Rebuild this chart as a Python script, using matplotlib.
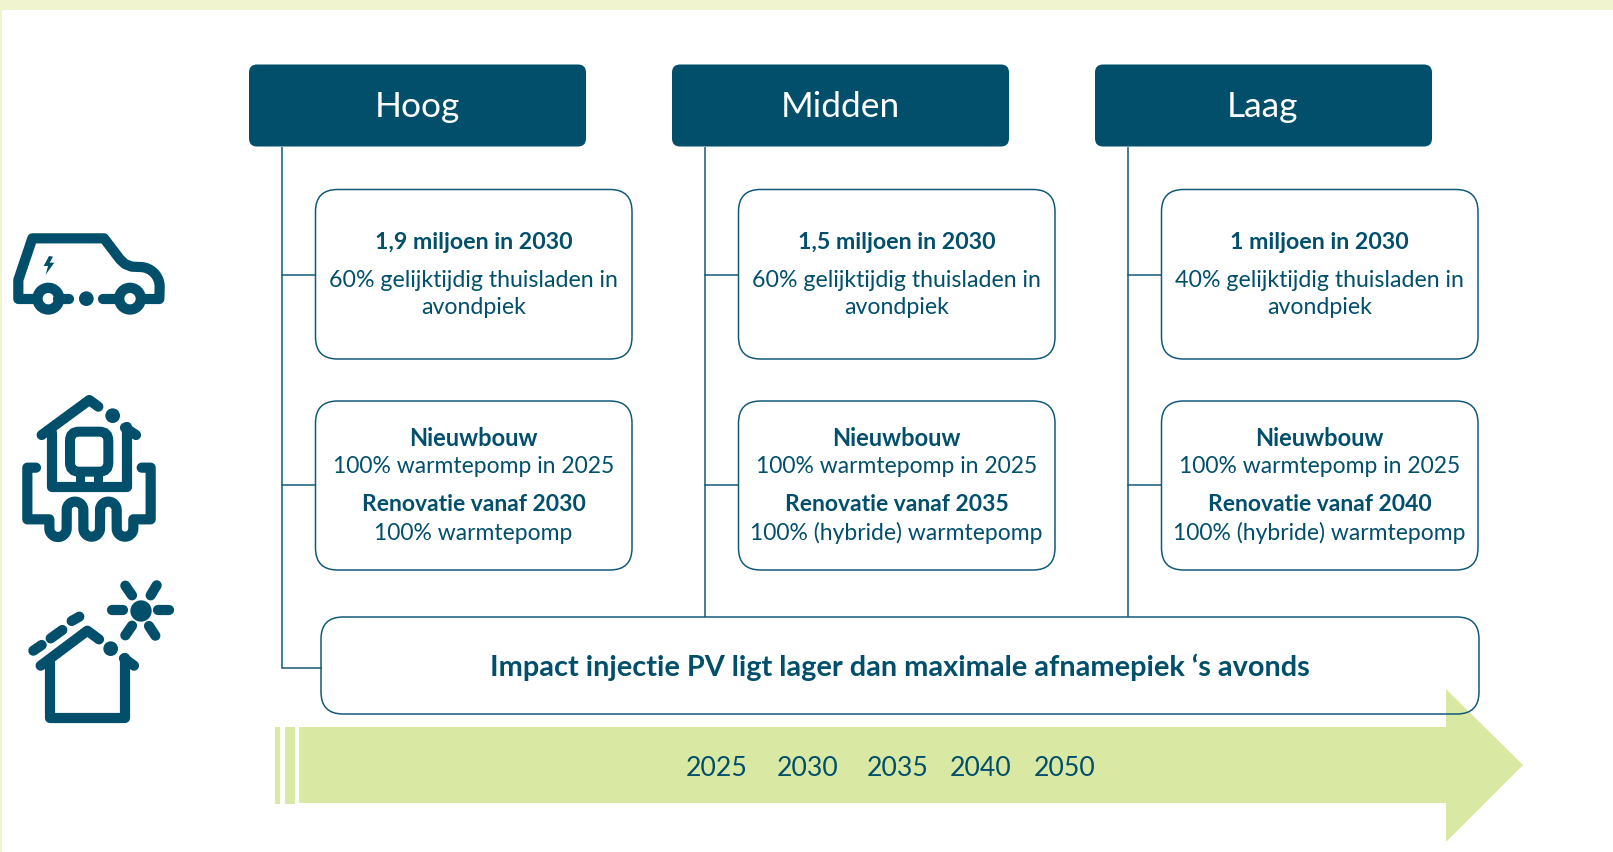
import numpy as np
import matplotlib
matplotlib.use("Agg")
import matplotlib.pyplot as plt
from matplotlib.patches import FancyBboxPatch, Rectangle, Polygon, Circle
W, H = 1613, 853
DARK = "#014F6B"
LINE = "#0F5878"
GREEN = "#D9E8A3"
BAND = "#F0F5D0"

scenarios = ["Hoog", "Midden", "Laag"]
ev_titles = ["1,9 miljoen in 2030", "1,5 miljoen in 2030", "1 miljoen in 2030"]
ev_share = ["60% gelijktijdig thuisladen in", "60% gelijktijdig thuisladen in", "40% gelijktijdig thuisladen in"]
ev_share2 = ["avondpiek", "avondpiek", "avondpiek"]
new_title = ["Nieuwbouw", "Nieuwbouw", "Nieuwbouw"]
new_text = ["100% warmtepomp in 2025"] * 3
reno_title = ["Renovatie vanaf 2030", "Renovatie vanaf 2035", "Renovatie vanaf 2040"]
reno_text = ["100% warmtepomp", "100% (hybride) warmtepomp", "100% (hybride) warmtepomp"]
pv_text = "Impact injectie PV ligt lager dan maximale afnamepiek \u2018s avonds"
years = ["2025", "2030", "2035", "2040", "2050"]
year_x = [717, 807.5, 898, 981, 1065]

FONT = "Lato"
FS = 16.7
FS2 = 16.45
px = 72 / 100

fig = plt.figure(figsize=(W / 100, H / 100), dpi=100)
ax = fig.add_axes([0, 0, 1, 1])
ax.set_xlim(0, W)
ax.set_ylim(H - 1, -1)
ax.axis("off")


def rbox(x0, y0, x1, y1, r, fc, ec, lw=1.5, z=3):
    ax.add_patch(FancyBboxPatch((x0, y0), x1 - x0, y1 - y0,
                                boxstyle=f"round,pad=0,rounding_size={r}",
                                fc=fc, ec=ec, lw=lw * px, zorder=z))


def txt(x, y, s, bold=False, size=FS, color=DARK, z=5):
    ax.text(x, y, s, ha="center", va="baseline", family=FONT, fontsize=size,
            fontweight="bold" if bold else "normal", color=color, zorder=z)


# page background bands
ax.add_patch(Rectangle((0, -1), W, 11, fc=BAND, ec="none"))
ax.add_patch(Rectangle((0, -1), 2, H + 1, fc=BAND, ec="none"))

# arrow
for a, b in [(275, 280), (285, 295)]:
    ax.add_patch(Rectangle((a, 727), b - a, 77, fc=GREEN, ec="none", zorder=1))
ax.add_patch(Polygon([(299, 727), (1446, 727), (1446, 689), (1523, 765),
                      (1446, 842), (1446, 803), (299, 803)],
                     closed=True, fc=GREEN, ec="none", zorder=1))
for xv, s in zip(year_x, years):
    txt(xv, 775, s, size=19.2)

# connectors
for i in range(3):
    dx = i * 423
    lx = 281.5 + dx
    bottom = 668 if i == 0 else 617
    ax.plot([lx, lx], [147, bottom], color=LINE, lw=1.5 * px, zorder=2, solid_capstyle="butt")
    ax.plot([lx, 316 + dx], [274.5, 274.5], color=LINE, lw=1.5 * px, zorder=2)
    ax.plot([lx, 316 + dx], [485, 485], color=LINE, lw=1.5 * px, zorder=2)
ax.plot([281.5, 321], [668, 668], color=LINE, lw=1.5 * px, zorder=2)

# columns
for i in range(3):
    dx = i * 423
    rbox(249 + dx, 64.5, 586 + dx, 146.5, 8, DARK, "none")
    txt(417 + dx, 115.5, scenarios[i], size=25.4, color="white")
    rbox(315.5 + dx, 189.5, 632 + dx, 359, 22, "white", LINE)
    rbox(315.5 + dx, 401, 632 + dx, 570, 22, "white", LINE)
    cx = 473.5 + dx
    txt(cx, 248, ev_titles[i], bold=True)
    txt(cx, 286, ev_share[i])
    txt(cx, 313, ev_share2[i])
    txt(cx, 445, new_title[i], bold=True, size=17)
    txt(cx, 472, new_text[i], size=FS2)
    txt(cx, 510, reno_title[i], bold=True, size=FS2)
    txt(cx, 539, reno_text[i], size=FS2)

# PV box (see-through, the arrow head shows behind it)
rbox(321, 617, 1479, 714, 22, "none", LINE, z=3)
txt(900, 675, pv_text, bold=True, size=20.8)


def arc(cx, cy, r, a0, a1, n=24):
    t = np.radians(np.linspace(a0, a1, n))
    return [(cx + r * np.cos(v), cy + r * np.sin(v)) for v in t]


def stroke(pts, ox, oy, lw=10.2):
    p = np.array(pts, float) / 3 + [ox, oy]
    ax.plot(p[:, 0], p[:, 1], color=DARK, lw=lw * px, solid_capstyle="round",
            solid_joinstyle="round", zorder=4)


def disc(x, y, r, ox, oy):
    ax.add_patch(Circle((x / 3 + ox, y / 3 + oy), r / 3, fc=DARK, ec="none", zorder=4))


# car icon
ox, oy = 0, 200
car = [(100, 297), (55, 297), (55, 240), (97, 115), (312, 115), (360, 178)]
car += [(375, 192), (395, 200), (420, 201)] + arc(420, 260, 59, -90, 0, 14) + [(478, 297), (435, 297)]
stroke(car, ox, oy)
stroke([(175, 296), (208, 296)], ox, oy)
stroke([(310, 296), (345, 296)], ox, oy)
disc(259, 296, 22, ox, oy)
for wx in (145, 390):
    ax.add_patch(Circle((wx / 3, 296 / 3 + oy), 32.5 / 3, fc="none", ec=DARK, lw=10.3 * px, zorder=4))
ax.add_patch(Polygon(np.array([(147, 168), (131, 198), (144, 198), (137, 224), (163, 188), (149, 188), (159, 170)]) / 3 + [0, oy],
                     fc=DARK, ec="none", zorder=4))

# heat pump icon
stroke([(125, 705), (268, 600), (295, 620)], ox, oy)
stroke([(375, 683), (408, 705)], ox, oy)
stroke([(155, 700), (155, 862), (380, 862), (380, 680)], ox, oy)
disc(338, 647, 22, ox, oy)
ax.add_patch(FancyBboxPatch((210 / 3, 695 / 3 + oy), 115 / 3, 120 / 3, boxstyle="round,pad=0,rounding_size=9",
                            fc="none", ec=DARK, lw=10 * px, zorder=4))
stroke([(240, 815), (240, 862)], ox, oy, lw=9)
stroke([(295, 815), (295, 862)], ox, oy, lw=9)
pipe = [(108, 803), (82, 803), (82, 958), (148, 958)]
pipe += arc(174, 985, 26, 180, 0)
pipe += arc(225, 930, 25, 180, 360) + arc(275, 985, 25, 180, 0)
pipe += arc(325, 930, 25, 180, 360) + arc(375, 985, 25, 180, 0)
pipe += [(400, 958), (452, 958), (452, 803), (425, 803)]
stroke(pipe, ox, oy)

# solar icon
oy2 = 560
stroke([(122, 317), (262, 212), (297, 238)], ox, oy2)
stroke([(372, 295), (402, 317)], ox, oy2)
stroke([(150, 310), (150, 475), (375, 475), (375, 295)], ox, oy2)
disc(332, 266, 22, ox, oy2)
for a, b in [((100, 272), (125, 255)), ((152, 235), (187, 210)), ((215, 183), (238, 170)),
             ((337, 150), (368, 150)), ((475, 150), (507, 150)), ((376, 77), (396, 106)),
             ((470, 76), (452, 106)), ((376, 226), (396, 197)), ((466, 227), (447, 198))]:
    stroke([a, b], ox, oy2)
disc(423, 153, 32, ox, oy2)

fig.savefig("out.png", dpi=100)
